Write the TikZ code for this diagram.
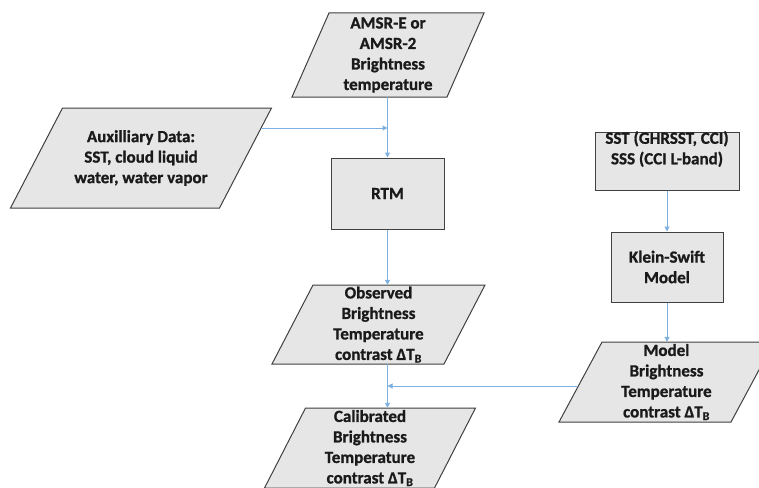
\documentclass[tikz,border=0pt]{standalone}
\usepackage{fontspec}
\setmainfont{Carlito}[BoldFont={Carlito Bold}, BoldFeatures={FakeBold=1}]
\usetikzlibrary{arrows.meta}
\definecolor{boxfill}{HTML}{E7E6E6}
\definecolor{boxline}{HTML}{404040}
\definecolor{conn}{HTML}{7EB1E0}
\definecolor{txtcol}{HTML}{1A1A1A}
\tikzset{
  boxstyle/.style={fill=boxfill, draw=boxline, line width=1pt},
  txt/.style={inner sep=0pt, align=center, text=txtcol,
    font=\fontsize{17}{20.5}\selectfont\bfseries},
  rbox/.style={boxstyle, inner sep=0pt},
  conn/.style={draw=conn, line width=1pt, -{Triangle[length=5pt,width=5pt]}}
}
\newcommand\pgram[7]{%
  \filldraw[boxstyle] ({#2-#4/2+#6/2},{#3-#5/2}) -- ({#2+#4/2+#6/2},{#3-#5/2})
    -- ({#2+#4/2-#6/2},{#3+#5/2}) -- ({#2-#4/2-#6/2},{#3+#5/2}) -- cycle;
  \node[txt, minimum width=#4pt, minimum height=#5pt] (#1) at (#2,#3) {#7};}
\begin{document}
\begin{tikzpicture}[x=1pt, y=-1pt]
\fill[white] (0,0) rectangle (759,487);
\clip (0,0) rectangle (759,487);
% parallelograms
\pgram{amsr}{388}{55}{155}{84}{37}{AMSR-E or\\AMSR-2\\Brightness\\temperature}
\pgram{aux}{141}{158}{209}{100}{52}{Auxilliary Data:\\SST, cloud liquid\\water, water vapor}
\pgram{obs}{378.5}{324.5}{172}{79}{41}{Observed\\Brightness\\Temperature\\contrast ΔT\textsubscript{B}}
\pgram{cal}{370}{448}{170}{80}{41}{Calibrated\\Brightness\\Temperature\\contrast ΔT\textsubscript{B}}
\pgram{model}{666.5}{382}{172}{80}{43}{Model\\Brightness\\Temperature\\contrast ΔT\textsubscript{B}}
% rectangles
\node[rbox, minimum width=113pt, minimum height=71pt] (rtm) at (387.5,193.5) {};
\node[txt] (rtmtxt) at (rtm.center) {RTM};
\node[rbox, minimum width=144pt, minimum height=58pt] (sst) at (667,161) {};
\node[txt, anchor=north] (ssttxt) at (667,131) {SST (GHRSST, CCI)\\SSS (CCI L-band)};
\node[rbox, minimum width=112pt, minimum height=70pt] (ks) at (667,267) {};
\node[txt] (kstxt) at (ks.center) {Klein-Swift\\Model};
% connectors
\coordinate (auxout) at (261,128);
\coordinate (modout) at (578,386);
\draw[conn] (amsr.south -| rtm.north) -- (rtm.north);
\draw[conn] (auxout) -- (auxout -| rtm.north);
\draw[conn] (rtm.south) -- (rtm.south |- obs.north);
\draw[conn] (rtm.south |- obs.south) -- (rtm.south |- cal.north);
\draw[conn] (modout) -- (modout -| rtm.south);
\draw[conn] (sst.south) -- (ks.north);
\draw[conn] (ks.south) -- (ks.south |- model.north);
\end{tikzpicture}
\end{document}
